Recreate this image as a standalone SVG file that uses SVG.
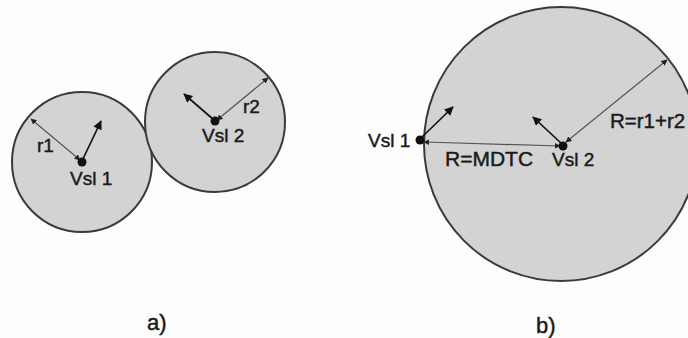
<svg xmlns="http://www.w3.org/2000/svg" width="688" height="338" viewBox="0 0 688 338">
<defs>
<style>
.zone{fill:#d3d3d3;stroke:#3a3a3a;stroke-width:2}
.rad{stroke:#555;stroke-width:1.2;fill:none;marker-start:url(#small);marker-end:url(#small)}
.vel{stroke:#111;stroke-width:1.7;fill:none;marker-end:url(#big)}
.dot{fill:#111}
text{font-family:"Liberation Sans",Arial,sans-serif;fill:#1a1a1a;stroke:#1a1a1a;stroke-width:0.45}
.lbl{font-size:19px}
.cap{font-size:22px}
</style>
<marker id="small" viewBox="0 0 10 10" refX="9" refY="5" markerWidth="6" markerHeight="6" markerUnits="userSpaceOnUse" orient="auto-start-reverse">
<path d="M0,0 L10,5 L0,10 z" fill="#222"/>
</marker>
<marker id="big" viewBox="0 0 10 10" refX="9" refY="5" markerWidth="11" markerHeight="9" markerUnits="userSpaceOnUse" orient="auto">
<path d="M0,0 L10,5 L0,10 z" fill="#111"/>
</marker>
</defs>
<rect width="688" height="338" fill="#fdfdfd"/>
<g id="panel-a">
<g id="zone-vsl1"><circle class="zone" cx="82" cy="162" r="70"/></g>
<g id="zone-vsl2"><circle class="zone" cx="215" cy="122" r="70"/></g>
<g id="connectors-a">
<line class="rad" x1="31" y1="119" x2="80" y2="160"/>
<line class="rad" x1="217" y1="120" x2="268" y2="78"/>
<line class="vel" x1="82" y1="161" x2="101" y2="121"/>
<line class="vel" x1="214" y1="120" x2="184" y2="94"/>
</g>
<g id="vsl1-a"><circle class="dot" cx="82" cy="162" r="4.5"/><text class="lbl" x="70" y="185">Vsl 1</text></g>
<g id="vsl2-a"><circle class="dot" cx="215" cy="121" r="4.5"/><text class="lbl" x="202" y="142">Vsl 2</text></g>
<text class="lbl" x="37" y="152">r1</text>
<text class="lbl" x="243" y="113">r2</text>
<text class="cap" x="147" y="330">a)</text>
</g>
<g id="panel-b">
<g id="zone-b"><circle class="zone" cx="561" cy="144" r="137"/></g>
<g id="connectors-b">
<line class="rad" x1="424" y1="142" x2="560" y2="146"/>
<line class="rad" x1="566" y1="142" x2="667" y2="60"/>
<line class="vel" x1="422" y1="137" x2="453" y2="107"/>
<line class="vel" x1="562" y1="144" x2="533" y2="117"/>
</g>
<g id="vsl1-b"><circle class="dot" cx="420" cy="140" r="4.5"/><text class="lbl" x="368" y="147">Vsl 1</text></g>
<g id="vsl2-b"><circle class="dot" cx="563" cy="146" r="4.5"/><text class="lbl" x="552" y="166">Vsl 2</text></g>
<text class="lbl" x="445" y="166" style="font-size:21px">R=MDTC</text>
<text class="lbl" x="610" y="128" style="font-size:20.5px">R=r1+r2</text>
<text class="cap" x="536" y="333">b)</text>
</g>
</svg>
